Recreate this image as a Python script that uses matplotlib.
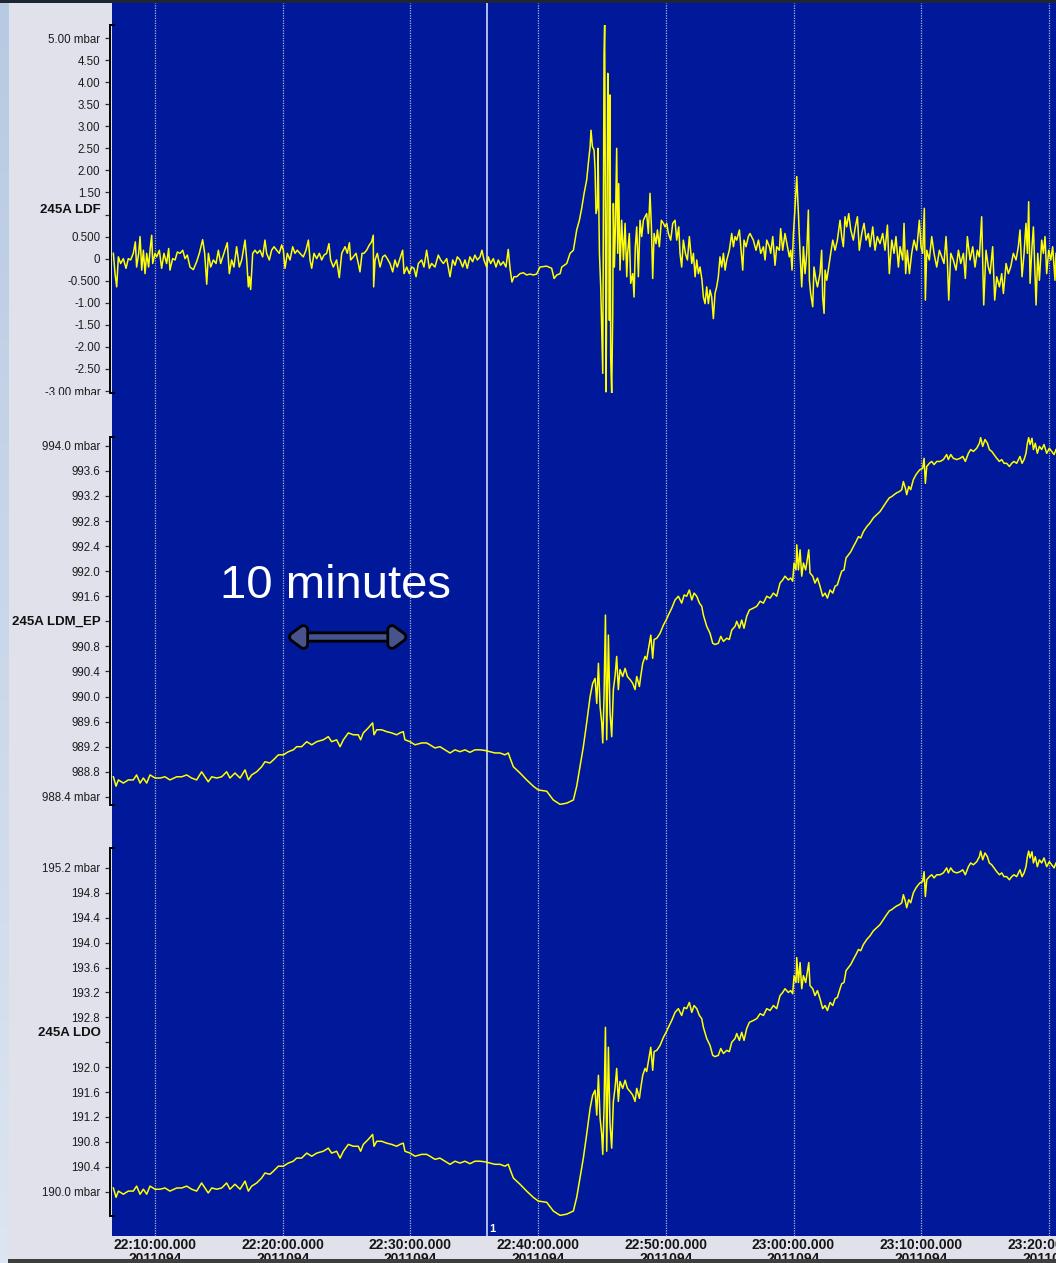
import numpy as np
import matplotlib
matplotlib.use("Agg")
import matplotlib.pyplot as plt
from matplotlib.colors import LinearSegmentedColormap
from matplotlib.patches import Rectangle, FancyArrowPatch
from matplotlib.transforms import Bbox, TransformedBbox, blended_transform_factory
import matplotlib.patheffects as pe

plt.rcParams['font.family'] = ['Liberation Sans', 'DejaVu Sans']

# ---------------------------------------------------------------- data
# time in minutes after 22:00 UTC (day 2011094)
tick_minutes = [10, 20, 30, 40, 50, 60, 70, 80]
tick_clock = ["22:10:00.000", "22:20:00.000", "22:30:00.000", "22:40:00.000",
              "22:50:00.000", "23:00:00.000", "23:10:00.000", "23:20:00.000"]
day_label = "2011094"
cursor_minute = 36.0

# 245A LDF (infrasound, mbar)
t_ldf = [6.74, 6.87, 7.00, 7.13, 7.31, 7.52, 7.73, 7.91, 8.09, 8.30,
         8.46, 8.56, 8.72, 8.83, 8.96, 9.09, 9.22, 9.35, 9.50, 9.61,
         9.74, 9.82, 10.00, 10.13, 10.34, 10.52, 10.70, 10.91, 11.07, 11.17,
         11.38, 11.57, 11.75, 11.96, 12.17, 12.35, 12.53, 12.74, 13.00, 13.26,
         13.47, 13.73, 13.89, 14.05, 14.18, 14.36, 14.57, 14.78, 14.96, 15.14,
         15.35, 15.56, 15.66, 15.82, 16.00, 16.18, 16.39, 16.60, 16.79, 17.05,
         17.18, 17.31, 17.39, 17.49, 17.65, 17.83, 18.01, 18.22, 18.43, 18.61,
         18.74, 18.95, 19.13, 19.32, 19.53, 19.73, 19.92, 20.05, 20.18, 20.36,
         20.57, 20.78, 20.96, 21.14, 21.35, 21.61, 21.82, 22.01, 22.14, 22.27,
         22.45, 22.66, 22.87, 23.05, 23.23, 23.44, 23.62, 23.75, 23.96, 24.22,
         24.43, 24.62, 24.88, 25.06, 25.22, 25.32, 25.53, 25.74, 25.92, 26.05,
         26.21, 26.36, 26.57, 26.78, 26.96, 27.09, 27.12, 27.23, 27.41, 27.62,
         27.83, 28.01, 28.19, 28.40, 28.61, 28.79, 28.97, 29.18, 29.39, 29.50,
         29.71, 29.91, 30.10, 30.28, 30.44, 30.62, 30.88, 31.06, 31.27, 31.48,
         31.66, 31.92, 32.18, 32.37, 32.58, 32.84, 33.10, 33.31, 33.49, 33.67,
         33.88, 34.09, 34.27, 34.45, 34.66, 34.87, 35.05, 35.24, 35.45, 35.60,
         35.76, 35.97, 36.10, 36.28, 36.49, 36.70, 36.88, 37.06, 37.27, 37.48,
         37.66, 37.80, 37.95, 38.11, 38.32, 38.58, 38.84, 39.10, 39.36, 39.62,
         39.88, 40.15, 40.67, 41.06, 41.25, 41.46, 41.72, 41.85, 42.24, 42.50,
         42.76, 42.89, 43.02, 43.23, 43.41, 43.60, 43.80, 43.93, 44.07, 44.14,
         44.25, 44.38, 44.46, 44.53, 44.64, 44.69, 44.80, 44.90, 44.98, 45.06,
         45.16, 45.21, 45.27, 45.32, 45.37, 45.45, 45.53, 45.58, 45.63, 45.68,
         45.76, 45.84, 45.89, 45.97, 46.05, 46.15, 46.23, 46.31, 46.41, 46.54,
         46.68, 46.81, 46.94, 47.01, 47.14, 47.25, 47.41, 47.51, 47.61, 47.72,
         47.85, 47.98, 48.11, 48.24, 48.37, 48.50, 48.63, 48.76, 48.87, 48.97,
         49.08, 49.23, 49.34, 49.49, 49.65, 49.81, 49.94, 50.07, 50.20, 50.38,
         50.54, 50.72, 50.85, 51.01, 51.11, 51.24, 51.37, 51.53, 51.69, 51.84,
         52.03, 52.16, 52.29, 52.42, 52.55, 52.68, 52.83, 52.94, 53.07, 53.20,
         53.33, 53.46, 53.59, 53.72, 53.85, 53.98, 54.11, 54.24, 54.37, 54.51,
         54.64, 54.77, 54.97, 55.16, 55.29, 55.42, 55.55, 55.76, 55.89, 56.02,
         56.12, 56.28, 56.46, 56.59, 56.85, 57.06, 57.25, 57.43, 57.64, 57.77,
         57.90, 58.11, 58.21, 58.37, 58.55, 58.68, 58.89, 58.99, 59.15, 59.33,
         59.52, 59.67, 59.78, 59.88, 59.99, 60.12, 60.25, 60.38, 60.51, 60.64,
         60.77, 60.90, 61.03, 61.16, 61.24, 61.34, 61.50, 61.60, 61.76, 61.87,
         62.07, 62.20, 62.28, 62.39, 62.47, 62.60, 62.75, 62.91, 63.07, 63.25,
         63.43, 63.64, 63.77, 63.90, 64.03, 64.16, 64.32, 64.48, 64.68, 64.84,
         65.00, 65.15, 65.34, 65.52, 65.68, 65.86, 65.99, 66.20, 66.38, 66.56,
         66.77, 66.98, 67.16, 67.35, 67.50, 67.69, 67.87, 68.02, 68.21, 68.34,
         68.55, 68.65, 68.78, 68.91, 69.07, 69.25, 69.43, 69.64, 69.85, 69.98,
         70.11, 70.24, 70.32, 70.43, 70.63, 70.82, 71.00, 71.21, 71.42, 71.60,
         71.78, 71.94, 72.04, 72.15, 72.31, 72.51, 72.72, 72.91, 73.09, 73.30,
         73.45, 73.61, 73.82, 74.03, 74.21, 74.39, 74.55, 74.73, 74.89, 75.07,
         75.25, 75.39, 75.59, 75.75, 75.91, 76.12, 76.30, 76.43, 76.64, 76.82,
         77.00, 77.21, 77.42, 77.60, 77.73, 77.89, 78.05, 78.20, 78.31, 78.41,
         78.52, 78.67, 78.78, 78.88, 78.99, 79.12, 79.25, 79.43, 79.56, 79.69,
         79.82, 79.98, 80.14, 80.29, 80.47, 80.55]
ldf = [0.12, -0.34, -0.64, 0.04, -0.11, 0.00, -0.22, 0.00, -0.03, 0.12,
       0.38, -0.19, 0.12, 0.50, -0.26, 0.19, -0.34, 0.12, -0.19, 0.19,
       0.53, -0.11, 0.12, 0.04, 0.19, -0.22, 0.12, -0.11, 0.23, -0.26,
       0.00, -0.03, 0.15, 0.12, 0.19, 0.00, 0.08, -0.19, -0.25, -0.07,
       0.12, 0.43, 0.12, -0.58, 0.12, -0.19, -0.03, -0.11, 0.19, -0.11,
       0.08, 0.27, 0.36, -0.34, -0.03, -0.19, 0.27, -0.19, -0.03, 0.42,
       -0.03, -0.64, -0.41, -0.70, 0.12, 0.19, 0.12, 0.19, 0.04, 0.42,
       0.12, -0.03, 0.19, 0.27, 0.19, 0.12, 0.31, 0.19, -0.22, 0.12,
       -0.03, 0.27, 0.12, 0.19, 0.12, 0.04, 0.19, 0.42, -0.03, -0.22,
       0.12, 0.00, 0.12, -0.03, 0.08, 0.12, 0.34, -0.03, -0.19, -0.03,
       -0.43, 0.12, 0.27, 0.12, 0.36, -0.03, 0.04, 0.12, -0.11, -0.30,
       0.12, 0.12, 0.19, 0.31, 0.38, 0.53, -0.64, -0.03, 0.12, -0.19,
       0.04, 0.08, 0.00, -0.11, -0.30, -0.03, -0.19, 0.00, 0.19, -0.34,
       -0.19, -0.34, -0.19, -0.22, -0.41, -0.11, -0.03, -0.19, 0.19, -0.22,
       -0.11, -0.19, 0.08, -0.03, -0.11, 0.00, -0.41, -0.03, -0.15, 0.04,
       -0.03, -0.19, -0.03, -0.22, 0.04, -0.07, 0.08, -0.03, 0.04, 0.19,
       -0.03, -0.19, 0.04, -0.11, 0.00, -0.19, -0.03, -0.15, -0.07, -0.19,
       0.21, -0.22, -0.53, -0.41, -0.41, -0.34, -0.32, -0.37, -0.35, -0.37,
       -0.35, -0.19, -0.17, -0.22, -0.45, -0.37, -0.34, -0.19, -0.11, 0.12,
       0.19, 0.42, 0.65, 0.87, 1.14, 1.48, 1.78, 2.16, 2.54, 2.91,
       2.54, 2.46, 2.01, 1.02, 1.18, 2.50, 0.12, -0.64, -1.66, -2.60,
       4.65, 5.32, 0.87, -3.02, -0.64, 4.20, 3.22, -1.40, 3.71, -2.23,
       -3.10, -1.24, 1.25, -0.19, 0.72, 2.50, 0.12, 1.70, -0.26, 0.87,
       -0.03, 0.80, -0.41, 0.12, 0.57, -0.56, -0.34, -0.87, 0.27, 0.72,
       -0.41, 0.87, 0.50, 0.87, 0.95, 1.02, 0.57, 1.48, 0.72, -0.45,
       0.57, 0.34, 0.65, 0.27, 0.87, 0.80, 0.72, 0.80, 0.57, 0.42,
       0.80, 0.87, 0.42, 0.72, 0.12, -0.19, 0.42, 0.12, -0.03, 0.50,
       -0.11, 0.12, -0.41, -0.03, -0.34, -0.19, -0.49, -0.87, -1.02, -0.64,
       -1.02, -0.71, -0.87, -1.36, -0.79, -0.64, -0.41, 0.04, -0.19, 0.12,
       -0.26, -0.03, 0.19, 0.57, 0.27, 0.50, 0.42, 0.65, 0.19, -0.26,
       0.42, 0.27, 0.50, 0.57, 0.42, 0.19, 0.42, 0.12, 0.27, -0.03,
       0.42, 0.27, 0.12, 0.50, -0.15, 0.27, 0.19, 0.68, 0.19, 0.57,
       0.27, 0.04, 0.19, -0.26, 0.57, 1.18, 1.86, 1.02, 0.12, -0.64,
       0.27, -0.34, 0.12, 1.10, -0.49, -0.79, -1.09, -0.19, -0.49, -0.64,
       -0.34, 0.19, -0.87, -1.24, -0.26, -0.49, -0.19, 0.12, 0.42, 0.19,
       0.42, 0.87, 0.50, 0.27, 0.95, 0.72, 1.02, 0.65, 0.42, 0.72,
       0.95, 0.19, 0.57, 0.80, 0.42, 0.57, 0.27, 0.72, 0.19, 0.50,
       0.34, 0.57, 0.19, 0.76, -0.34, 0.42, 0.12, 0.50, -0.19, 0.27,
       -0.03, 0.80, -0.34, 0.19, -0.34, 0.12, 0.42, 0.19, 0.87, 0.27,
       0.12, 1.14, -0.94, 0.19, -0.03, 0.50, 0.12, -0.19, 0.19, 0.04,
       -0.11, 0.50, -0.03, -0.94, 0.12, -0.03, -0.26, 0.19, -0.11, 0.12,
       -0.45, 0.50, -0.03, 0.27, -0.19, 0.19, 0.04, 0.95, -1.05, 0.19,
       -0.19, -0.34, 0.27, -0.94, -0.41, -0.64, -0.34, -0.79, -0.11, -0.34,
       -0.19, 0.12, -0.03, 0.27, 0.65, -0.41, 0.12, 0.80, 0.12, 1.29,
       -0.56, 0.27, 0.72, -0.11, -1.05, 0.12, -0.49, 0.42, 0.12, 0.50,
       -0.34, 0.19, -0.03, 0.27, -0.49, 0.12]

# 245A LDM_EP and 245A LDO share the same sample times
t_ldm = [6.74, 6.95, 7.13, 7.52, 7.91, 8.30, 8.56, 8.83, 9.09, 9.35,
         9.61, 10.00, 10.39, 10.78, 11.17, 11.70, 12.09, 12.48, 12.87, 13.26,
         13.65, 13.91, 14.17, 14.44, 14.83, 15.22, 15.61, 15.87, 16.26, 16.66,
         17.05, 17.31, 17.57, 17.96, 18.35, 18.61, 19.00, 19.27, 19.66, 20.05,
         20.44, 20.83, 21.09, 21.48, 21.88, 22.27, 22.66, 23.18, 23.57, 23.83,
         24.22, 24.49, 24.75, 25.14, 25.53, 25.92, 26.10, 26.31, 26.70, 27.04,
         27.15, 27.36, 27.75, 28.14, 28.53, 28.92, 29.18, 29.44, 29.57, 29.97,
         30.36, 30.88, 31.27, 31.53, 31.92, 32.31, 32.71, 33.10, 33.49, 33.88,
         34.27, 34.66, 35.05, 35.45, 35.84, 36.23, 36.62, 37.01, 37.40, 37.66,
         37.80, 38.06, 38.58, 39.10, 39.62, 40.01, 40.67, 41.19, 41.72, 42.24,
         42.76, 43.02, 43.28, 43.54, 43.80, 44.07, 44.27, 44.46, 44.59, 44.72,
         44.85, 44.98, 45.06, 45.16, 45.27, 45.37, 45.50, 45.63, 45.76, 45.89,
         46.02, 46.15, 46.28, 46.41, 46.62, 46.81, 46.99, 47.20, 47.41, 47.59,
         47.72, 47.93, 48.03, 48.19, 48.37, 48.50, 48.63, 48.82, 48.97, 49.08,
         49.29, 49.55, 49.81, 50.02, 50.20, 50.46, 50.72, 50.98, 51.24, 51.43,
         51.63, 51.84, 52.03, 52.21, 52.42, 52.63, 52.81, 52.94, 53.20, 53.46,
         53.67, 53.85, 54.11, 54.30, 54.51, 54.77, 54.97, 55.16, 55.42, 55.55,
         55.76, 55.94, 56.12, 56.33, 56.54, 56.85, 57.12, 57.38, 57.64, 57.90,
         58.16, 58.42, 58.68, 58.94, 59.15, 59.33, 59.59, 59.78, 59.93, 60.04,
         60.19, 60.25, 60.38, 60.51, 60.64, 60.77, 60.95, 61.11, 61.19, 61.29,
         61.50, 61.68, 61.87, 62.07, 62.28, 62.47, 62.65, 62.86, 63.07, 63.25,
         63.43, 63.64, 63.77, 63.95, 64.11, 64.29, 64.48, 64.68, 64.89, 65.08,
         65.26, 65.47, 65.73, 65.99, 66.25, 66.51, 66.77, 67.03, 67.29, 67.50,
         67.69, 67.87, 68.08, 68.29, 68.47, 68.60, 68.76, 68.86, 69.02, 69.17,
         69.38, 69.59, 69.77, 69.90, 70.11, 70.22, 70.32, 70.43, 70.63, 70.82,
         71.00, 71.21, 71.47, 71.73, 71.99, 72.12, 72.31, 72.51, 72.78, 73.04,
         73.25, 73.45, 73.69, 73.87, 74.08, 74.34, 74.55, 74.65, 74.81, 74.99,
         75.18, 75.33, 75.52, 75.70, 75.91, 76.12, 76.30, 76.48, 76.69, 76.90,
         77.08, 77.26, 77.47, 77.73, 77.89, 78.05, 78.20, 78.31, 78.41, 78.52,
         78.67, 78.78, 78.93, 79.09, 79.25, 79.43, 79.61, 79.82, 80.03, 80.21,
         80.40, 80.55]
ldm_ep = [988.72, 988.57, 988.67, 988.62, 988.67, 988.67, 988.75, 988.62, 988.70, 988.62,
          988.75, 988.70, 988.70, 988.72, 988.67, 988.72, 988.72, 988.75, 988.70, 988.67,
          988.80, 988.72, 988.64, 988.72, 988.70, 988.72, 988.80, 988.70, 988.78, 988.70,
          988.83, 988.67, 988.75, 988.80, 988.88, 988.96, 988.94, 988.99, 989.07, 989.07,
          989.12, 989.15, 989.20, 989.20, 989.28, 989.23, 989.28, 989.31, 989.36, 989.28,
          989.31, 989.20, 989.31, 989.42, 989.39, 989.39, 989.31, 989.42, 989.50, 989.58,
          989.39, 989.47, 989.47, 989.44, 989.42, 989.39, 989.42, 989.44, 989.31, 989.28,
          989.23, 989.26, 989.26, 989.23, 989.18, 989.20, 989.15, 989.10, 989.15, 989.12,
          989.15, 989.11, 989.15, 989.15, 989.14, 989.12, 989.10, 989.10, 989.07, 989.10,
          989.02, 988.88, 988.78, 988.67, 988.57, 988.51, 988.49, 988.35, 988.28, 988.30,
          988.35, 988.57, 988.88, 989.20, 989.58, 990.00, 990.21, 990.29, 989.89, 990.53,
          989.84, 989.58, 989.26, 990.00, 991.30, 989.31, 990.98, 989.74, 989.36, 990.11,
          990.32, 990.64, 990.11, 990.43, 990.32, 990.45, 990.32, 990.27, 990.21, 990.11,
          990.32, 990.16, 990.32, 990.53, 990.64, 990.59, 990.75, 990.98, 990.61, 990.91,
          990.93, 991.01, 991.14, 991.22, 991.30, 991.41, 991.54, 991.60, 991.49, 991.62,
          991.60, 991.70, 991.54, 991.65, 991.60, 991.49, 991.44, 991.30, 991.12, 991.01,
          990.85, 990.83, 990.85, 990.96, 990.88, 990.93, 990.91, 991.06, 991.12, 991.20,
          991.09, 991.22, 991.09, 991.28, 991.38, 991.41, 991.44, 991.52, 991.49, 991.60,
          991.57, 991.65, 991.60, 991.81, 991.86, 991.92, 991.86, 991.89, 991.84, 992.13,
          992.02, 992.42, 992.02, 992.34, 991.92, 992.13, 992.02, 992.23, 992.34, 991.97,
          991.92, 991.81, 991.89, 991.76, 991.60, 991.65, 991.57, 991.70, 991.65, 991.76,
          991.78, 991.92, 992.00, 992.02, 992.21, 992.26, 992.31, 992.39, 992.47, 992.55,
          992.53, 992.63, 992.71, 992.77, 992.85, 992.90, 992.95, 993.03, 993.11, 993.17,
          993.19, 993.22, 993.25, 993.27, 993.30, 993.43, 993.32, 993.22, 993.35, 993.30,
          993.46, 993.54, 993.59, 993.62, 993.64, 993.80, 993.40, 993.67, 993.72, 993.75,
          993.70, 993.75, 993.75, 993.78, 993.86, 993.78, 993.86, 993.80, 993.78, 993.80,
          993.83, 993.75, 993.88, 993.94, 993.91, 993.96, 994.04, 994.13, 993.99, 994.10,
          994.04, 993.94, 993.91, 993.86, 993.80, 993.75, 993.78, 993.72, 993.72, 993.67,
          993.72, 993.75, 993.72, 993.83, 993.72, 993.78, 993.88, 994.04, 994.13, 994.02,
          994.12, 993.94, 994.04, 993.88, 993.99, 993.94, 994.02, 993.88, 993.96, 993.91,
          993.86, 993.94]
ldo = [190.06, 189.91, 190.01, 189.96, 190.01, 190.01, 190.09, 189.96, 190.04, 189.96,
       190.09, 190.04, 190.04, 190.06, 190.01, 190.06, 190.06, 190.09, 190.04, 190.01,
       190.14, 190.06, 189.98, 190.06, 190.04, 190.06, 190.14, 190.04, 190.12, 190.04,
       190.17, 190.01, 190.09, 190.14, 190.22, 190.30, 190.28, 190.33, 190.41, 190.41,
       190.46, 190.49, 190.54, 190.54, 190.62, 190.57, 190.62, 190.65, 190.70, 190.62,
       190.65, 190.54, 190.65, 190.76, 190.73, 190.73, 190.65, 190.76, 190.84, 190.92,
       190.73, 190.81, 190.81, 190.78, 190.76, 190.73, 190.76, 190.78, 190.65, 190.62,
       190.57, 190.60, 190.60, 190.57, 190.52, 190.54, 190.49, 190.44, 190.49, 190.46,
       190.49, 190.45, 190.49, 190.49, 190.48, 190.46, 190.44, 190.44, 190.41, 190.44,
       190.36, 190.22, 190.12, 190.01, 189.91, 189.85, 189.83, 189.69, 189.62, 189.64,
       189.69, 189.91, 190.22, 190.54, 190.92, 191.34, 191.55, 191.63, 191.23, 191.87,
       191.18, 190.92, 190.60, 191.34, 192.64, 190.65, 192.32, 191.08, 190.70, 191.45,
       191.66, 191.98, 191.45, 191.77, 191.66, 191.79, 191.66, 191.61, 191.55, 191.45,
       191.66, 191.50, 191.66, 191.87, 191.98, 191.93, 192.09, 192.32, 191.95, 192.25,
       192.27, 192.35, 192.48, 192.56, 192.64, 192.75, 192.88, 192.94, 192.83, 192.96,
       192.94, 193.04, 192.88, 192.99, 192.94, 192.83, 192.78, 192.64, 192.46, 192.35,
       192.19, 192.17, 192.19, 192.30, 192.22, 192.27, 192.25, 192.40, 192.46, 192.54,
       192.43, 192.56, 192.43, 192.62, 192.72, 192.75, 192.78, 192.86, 192.83, 192.94,
       192.91, 192.99, 192.94, 193.15, 193.20, 193.26, 193.20, 193.23, 193.18, 193.47,
       193.36, 193.76, 193.36, 193.68, 193.26, 193.47, 193.36, 193.57, 193.68, 193.31,
       193.26, 193.15, 193.23, 193.10, 192.94, 192.99, 192.91, 193.04, 192.99, 193.10,
       193.12, 193.26, 193.34, 193.36, 193.55, 193.60, 193.65, 193.73, 193.81, 193.89,
       193.87, 193.97, 194.05, 194.11, 194.19, 194.24, 194.29, 194.37, 194.45, 194.51,
       194.53, 194.56, 194.59, 194.61, 194.64, 194.77, 194.66, 194.56, 194.69, 194.64,
       194.80, 194.88, 194.93, 194.96, 194.98, 195.14, 194.74, 195.01, 195.06, 195.09,
       195.04, 195.09, 195.09, 195.12, 195.20, 195.12, 195.20, 195.14, 195.12, 195.14,
       195.17, 195.09, 195.22, 195.28, 195.25, 195.30, 195.38, 195.47, 195.33, 195.44,
       195.38, 195.28, 195.25, 195.20, 195.14, 195.09, 195.12, 195.06, 195.06, 195.01,
       195.06, 195.09, 195.06, 195.17, 195.06, 195.12, 195.22, 195.38, 195.47, 195.36,
       195.46, 195.28, 195.38, 195.22, 195.33, 195.28, 195.36, 195.22, 195.30, 195.25,
       195.20, 195.28]

# y-axis ticks and labels per channel (bottom to top)
ldf_ticks = [-3.0, -2.5, -2.0, -1.5, -1.0, -0.5, 0.0, 0.5, 1.0, 1.5,
             2.0, 2.5, 3.0, 3.5, 4.0, 4.5, 5.0]
ldf_labels = ["-3.00 mbar", "-2.50", "-2.00", "-1.50", "-1.00", "-0.500", "0", "0.500", "",
              "1.50", "2.00", "2.50", "3.00", "3.50", "4.00", "4.50", "5.00 mbar"]
ldm_ticks = [988.4, 988.8, 989.2, 989.6, 990.0, 990.4, 990.8, 991.2,
             991.6, 992.0, 992.4, 992.8, 993.2, 993.6, 994.0]
ldm_labels = ["988.4 mbar", "988.8", "989.2", "989.6", "990.0", "990.4", "990.8", "",
              "991.6", "992.0", "992.4", "992.8", "993.2", "993.6", "994.0 mbar"]
ldo_ticks = [190.0, 190.4, 190.8, 191.2, 191.6, 192.0, 192.4,
             192.8, 193.2, 193.6, 194.0, 194.4, 194.8, 195.2]
ldo_labels = ["190.0 mbar", "190.4", "190.8", "191.2", "191.6", "192.0", "",
              "192.8", "193.2", "193.6", "194.0", "194.4", "194.8", "195.2 mbar"]

# ---------------------------------------------------------------- layout
W, H, DPI = 1056, 1263, 100
BG = '#E1E1EC'
BLUE = '#00199A'
TRACE = '#FFFF00'

fig = plt.figure(figsize=(W / DPI, H / DPI), dpi=DPI, facecolor=BG)


def fx(px):
    return px / W


def fy(py):
    return 1 - py / H


PX_PER_MIN = 12.771
T_RIGHT = 80.55
T_BLUE_LEFT = T_RIGHT - (W - 112) / PX_PER_MIN
T_PANEL_LEFT = T_RIGHT - (W - 110) / PX_PER_MIN

# light blue strip along the left edge
ax_strip = fig.add_axes([0, 0, fx(9), 1])
strip_cmap = LinearSegmentedColormap.from_list('strip', ['#DCE5F1', '#B7CAE3'])
ax_strip.imshow(np.linspace(0, 1, 256).reshape(-1, 1), aspect='auto', cmap=strip_cmap,
                origin='lower', extent=[0, 1, 0, 1])
ax_strip.set_axis_off()

# blue trace canvas with time grid
ax_bg = fig.add_axes([fx(112), fy(1236), fx(W - 112), (1236 - 3) / H])
ax_bg.set_facecolor(BLUE)
ax_bg.set_xlim(T_BLUE_LEFT, T_RIGHT)
ax_bg.set_ylim(0, 1)
for s in ax_bg.spines.values():
    s.set_visible(False)
ax_bg.set_yticks([])
ax_bg.set_xticks(tick_minutes)
ax_bg.set_xticklabels([f"{c}\n{day_label}" for c in tick_clock], fontsize=10,
                      fontweight='bold', color='#151515', linespacing=1.0)
ax_bg.tick_params(axis='x', length=0, pad=1.5)
ax_bg.grid(axis='x', color='#AEB3D4', linewidth=0.9, linestyle=(0, (1, 1)))
ax_bg.axvline(cursor_minute, color='#D4D9F0', linewidth=1.2)
ax_bg.text(cursor_minute + 0.2, 0.002, '1', color='white', fontsize=8, fontweight='bold',
           ha='left', va='bottom',
           transform=blended_transform_factory(ax_bg.transData, ax_bg.transAxes))


def make_panel(top_px, bot_px, t, values, ylim, ticks, labels, name, name_tick,
               name_offset, name_va):
    ax = fig.add_axes([fx(110), fy(bot_px), fx(W - 110), (bot_px - top_px) / H])
    ax.set_facecolor('none')
    ax.set_xlim(T_PANEL_LEFT, T_RIGHT)
    ax.set_ylim(*ylim)
    for s in ('top', 'right', 'bottom'):
        ax.spines[s].set_visible(False)
    ax.spines['left'].set_linewidth(1.4)
    ax.spines['left'].set_color('black')
    ax.set_xticks([])
    ax.set_yticks(ticks)
    ax.set_yticklabels(labels)
    ax.tick_params(axis='y', direction='out', length=3.8, width=0.9, pad=3.2,
                   labelsize=8.3, labelcolor='#1c1c1c', color='#2a2a2a')
    for yy in (0, 1):
        ax.plot([0, 0.005], [yy, yy], transform=ax.transAxes, color='black',
                linewidth=1.4, clip_on=False, solid_capstyle='butt')
    ax.annotate(name, xy=(0, name_tick), xycoords=('axes fraction', 'data'),
                xytext=(-6.5, name_offset), textcoords='offset points',
                ha='right', va=name_va, fontsize=9.5, fontweight='bold', color='#111')
    ax.plot(t, values, color=TRACE, linewidth=1.1)
    return ax


ax_ldf = make_panel(25, 393, t_ldf, ldf, (-3.045, 5.295), ldf_ticks, ldf_labels,
                    '245A LDF', 1.0, -1.0, 'bottom')
ax_ldm = make_panel(437, 805, t_ldm, ldm_ep, (988.27, 994.14), ldm_ticks, ldm_labels,
                    '245A LDM_EP', 991.2, 0, 'center')
ax_ldo = make_panel(848, 1216, t_ldm, ldo, (189.61, 195.52), ldo_ticks, ldo_labels,
                    '245A LDO', 192.4, 2.5, 'bottom')

# the lowest LDF label is cut at the lower edge of its panel
clip = TransformedBbox(Bbox([[0, fy(395)], [1, 1]]), fig.transFigure)
for lab in ax_ldf.get_yticklabels():
    lab.set_clip_box(clip)
    lab.set_clip_on(True)

# ten-minute scale annotation
ax_ldm.text(24.13, 991.575, '10 minutes', color='white', fontsize=34,
            ha='center', va='baseline', zorder=5)
arrow_style = dict(arrowstyle='<|-|>,head_length=7,head_width=5.2', mutation_scale=1,
                   shrinkA=0, shrinkB=0, linewidth=4.0, color='#46538C', zorder=6,
                   path_effects=[pe.Stroke(linewidth=8.0, foreground='black'), pe.Normal()])
ax_ldm.add_patch(FancyArrowPatch((20.5, 990.95), (29.68, 990.95), **arrow_style))

# window chrome: dark edges at top and bottom
fig.patches.append(Rectangle((0, fy(3)), 1, 3 / H, transform=fig.transFigure,
                             facecolor='#1F2633', edgecolor='none', zorder=3))
fig.patches.append(Rectangle((fx(8), 0), 1, 4 / H, transform=fig.transFigure,
                             facecolor='#3E3E3E', edgecolor='none', zorder=3))

fig.savefig('out.png', dpi=DPI, facecolor=BG)
